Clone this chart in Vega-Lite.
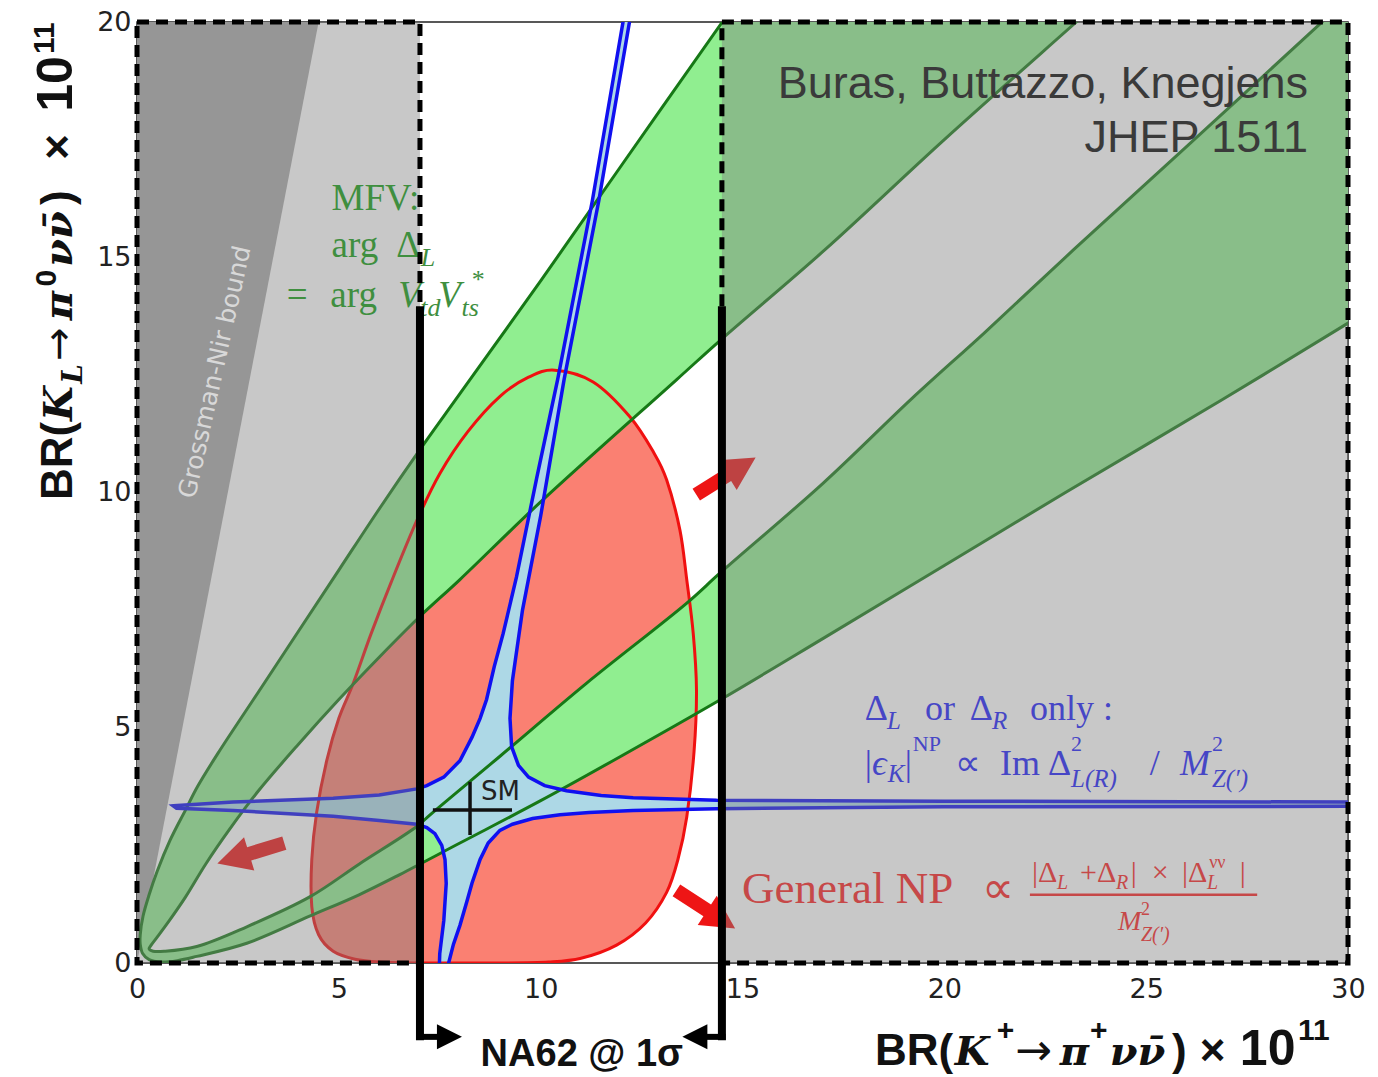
{
  "$schema": "https://vega.github.io/schema/vega-lite/v6.json",
  "width": 1211,
  "height": 941,
  "autosize": {"type": "none"},
  "padding": {"left": 137, "top": 22, "right": 30, "bottom": 114},
  "background": "white",
  "config": {"view": {"stroke": "#222222", "strokeWidth": 1.5}},
  "datasets": {
    "gn": [{"x":0,"y":0,"i":0},{"x":4.5,"y":20,"i":1},{"x":0,"y":20,"i":2}],
    "gfill": [
      {"x":14.5,"y":20,"i":0},{"x":23.27,"y":20,"i":1},{"x":20,"y":17.5,"i":2},{"x":17.03,"y":15.15,"i":3},{"x":14.47,"y":13.25,"i":4},{"x":13.37,"y":12.4,"i":5},{"x":10,"y":9.8,"i":6},{"x":8,"y":8.15,"i":7},{"x":7,"y":7.36,"i":8},{"x":6,"y":6.5,"i":9},{"x":5,"y":5.6,"i":10},{"x":4,"y":4.65,"i":11},{"x":3,"y":3.65,"i":12},{"x":2.3,"y":2.85,"i":13},{"x":1.7,"y":2.1,"i":14},{"x":1.2,"y":1.4,"i":15},{"x":0.8,"y":0.9,"i":16},{"x":0.5,"y":0.55,"i":17},{"x":0.35,"y":0.38,"i":18},{"x":0.3,"y":0.3,"i":19},{"x":0.4,"y":0.25,"i":20},{"x":0.7,"y":0.25,"i":21},{"x":1.48,"y":0.35,"i":22},{"x":2.72,"y":0.77,"i":23},{"x":4.29,"y":1.41,"i":24},{"x":5.5,"y":2.1,"i":25},{"x":6.93,"y":2.9,"i":26},{"x":7.26,"y":3.15,"i":27},{"x":9,"y":4.4,"i":28},{"x":11.14,"y":5.95,"i":29},{"x":13.62,"y":7.65,"i":30},{"x":14.46,"y":8.3,"i":31},{"x":17,"y":10.2,"i":32},{"x":19.2,"y":12.0,"i":33},{"x":21,"y":13.4,"i":34},{"x":23.19,"y":15.15,"i":35},{"x":26,"y":17.35,"i":36},{"x":29.28,"y":19.94,"i":37},{"x":29.35,"y":20,"i":38},{"x":30,"y":20,"i":39},{"x":30,"y":13.6,"i":40},{"x":26.88,"y":11.97,"i":41},{"x":23,"y":10.0,"i":42},{"x":20,"y":8.45,"i":43},{"x":17,"y":6.9,"i":44},{"x":14.46,"y":5.6,"i":45},{"x":12,"y":4.4,"i":46},{"x":10,"y":3.45,"i":47},{"x":8,"y":2.55,"i":48},{"x":6.51,"y":1.88,"i":49},{"x":5.5,"y":1.45,"i":50},{"x":4.29,"y":1.0,"i":51},{"x":2.72,"y":0.42,"i":52},{"x":1.48,"y":0.14,"i":53},{"x":1.0,"y":0.05,"i":54},{"x":0.6,"y":0.02,"i":55},{"x":0.3,"y":0.07,"i":56},{"x":0.14,"y":0.2,"i":57},{"x":0.08,"y":0.4,"i":58},{"x":0.08,"y":0.6,"i":59},{"x":0.15,"y":1.0,"i":60},{"x":0.3,"y":1.45,"i":61},{"x":0.5,"y":1.95,"i":62},{"x":0.82,"y":2.61,"i":63},{"x":1.2,"y":3.25,"i":64},{"x":1.5,"y":3.75,"i":65},{"x":2,"y":4.45,"i":66},{"x":3,"y":5.75,"i":67},{"x":4,"y":7.05,"i":68},{"x":5,"y":8.35,"i":69},{"x":6,"y":9.65,"i":70},{"x":7,"y":10.9,"i":71},{"x":8,"y":12.1,"i":72},{"x":10,"y":14.5,"i":73},{"x":12,"y":16.95,"i":74}
    ],
    "glines": [
      {"c":"A","x":15,"y":20.6,"i":0},{"c":"A","x":14.5,"y":20,"i":1},{"c":"A","x":12,"y":16.95,"i":2},{"c":"A","x":10,"y":14.5,"i":3},{"c":"A","x":8,"y":12.1,"i":4},{"c":"A","x":7,"y":10.9,"i":5},{"c":"A","x":6,"y":9.65,"i":6},{"c":"A","x":5,"y":8.35,"i":7},{"c":"A","x":4,"y":7.05,"i":8},{"c":"A","x":3,"y":5.75,"i":9},{"c":"A","x":2,"y":4.45,"i":10},{"c":"A","x":1.5,"y":3.75,"i":11},{"c":"A","x":1.2,"y":3.25,"i":12},{"c":"A","x":0.82,"y":2.61,"i":13},{"c":"A","x":0.5,"y":1.95,"i":14},{"c":"A","x":0.3,"y":1.45,"i":15},{"c":"A","x":0.15,"y":1.0,"i":16},{"c":"A","x":0.08,"y":0.6,"i":17},{"c":"A","x":0.08,"y":0.4,"i":18},{"c":"A","x":0.14,"y":0.2,"i":19},{"c":"A","x":0.3,"y":0.07,"i":20},{"c":"A","x":0.6,"y":0.02,"i":21},{"c":"A","x":1.0,"y":0.05,"i":22},{"c":"A","x":1.48,"y":0.14,"i":23},{"c":"A","x":2.72,"y":0.42,"i":24},{"c":"A","x":4.29,"y":1.0,"i":25},{"c":"A","x":5.5,"y":1.45,"i":26},{"c":"A","x":6.51,"y":1.88,"i":27},{"c":"A","x":8,"y":2.55,"i":28},{"c":"A","x":10,"y":3.45,"i":29},{"c":"A","x":12,"y":4.4,"i":30},{"c":"A","x":14.46,"y":5.6,"i":31},{"c":"A","x":17,"y":6.9,"i":32},{"c":"A","x":20,"y":8.45,"i":33},{"c":"A","x":23,"y":10.0,"i":34},{"c":"A","x":26.88,"y":11.97,"i":35},{"c":"A","x":30,"y":13.6,"i":36},{"c":"A","x":30.5,"y":13.85,"i":37},
      {"c":"B","x":24,"y":20.56,"i":0},{"c":"B","x":23.27,"y":20,"i":1},{"c":"B","x":20,"y":17.5,"i":2},{"c":"B","x":17.03,"y":15.15,"i":3},{"c":"B","x":14.47,"y":13.25,"i":4},{"c":"B","x":13.37,"y":12.4,"i":5},{"c":"B","x":10,"y":9.8,"i":6},{"c":"B","x":8,"y":8.15,"i":7},{"c":"B","x":7,"y":7.36,"i":8},{"c":"B","x":6,"y":6.5,"i":9},{"c":"B","x":5,"y":5.6,"i":10},{"c":"B","x":4,"y":4.65,"i":11},{"c":"B","x":3,"y":3.65,"i":12},{"c":"B","x":2.3,"y":2.85,"i":13},{"c":"B","x":1.7,"y":2.1,"i":14},{"c":"B","x":1.2,"y":1.4,"i":15},{"c":"B","x":0.8,"y":0.9,"i":16},{"c":"B","x":0.5,"y":0.55,"i":17},{"c":"B","x":0.35,"y":0.38,"i":18},{"c":"B","x":0.3,"y":0.3,"i":19},{"c":"B","x":0.4,"y":0.25,"i":20},{"c":"B","x":0.7,"y":0.25,"i":21},{"c":"B","x":1.48,"y":0.35,"i":22},{"c":"B","x":2.72,"y":0.77,"i":23},{"c":"B","x":4.29,"y":1.41,"i":24},{"c":"B","x":5.5,"y":2.1,"i":25},{"c":"B","x":6.93,"y":2.9,"i":26},{"c":"B","x":7.26,"y":3.15,"i":27},{"c":"B","x":9,"y":4.4,"i":28},{"c":"B","x":11.14,"y":5.95,"i":29},{"c":"B","x":13.62,"y":7.65,"i":30},{"c":"B","x":14.46,"y":8.3,"i":31},{"c":"B","x":17,"y":10.2,"i":32},{"c":"B","x":19.2,"y":12.0,"i":33},{"c":"B","x":21,"y":13.4,"i":34},{"c":"B","x":23.19,"y":15.15,"i":35},{"c":"B","x":26,"y":17.35,"i":36},{"c":"B","x":29.28,"y":19.94,"i":37},{"c":"B","x":30,"y":20.5,"i":38}
    ],
    "red": [
      {"x":10.35,"y":12.6,"i":0},{"x":11.3,"y":12.35,"i":1},{"x":12.21,"y":11.61,"i":2},{"x":12.8,"y":10.85,"i":3},{"x":13.12,"y":10.27,"i":4},{"x":13.45,"y":9.2,"i":5},{"x":13.62,"y":8.14,"i":6},{"x":13.78,"y":7.0,"i":7},{"x":13.86,"y":5.8,"i":8},{"x":13.8,"y":4.5,"i":9},{"x":13.62,"y":3.11,"i":10},{"x":13.4,"y":2.2,"i":11},{"x":13.12,"y":1.5,"i":12},{"x":12.6,"y":0.85,"i":13},{"x":11.88,"y":0.38,"i":14},{"x":11.0,"y":0.1,"i":15},{"x":10.2,"y":0.02,"i":16},{"x":9,"y":0,"i":17},{"x":7,"y":0,"i":18},{"x":6.0,"y":0.02,"i":19},{"x":5.4,"y":0.08,"i":20},{"x":4.86,"y":0.25,"i":21},{"x":4.5,"y":0.6,"i":22},{"x":4.33,"y":1.2,"i":23},{"x":4.33,"y":2.2,"i":24},{"x":4.45,"y":3.2,"i":25},{"x":4.7,"y":4.3,"i":26},{"x":5.0,"y":5.2,"i":27},{"x":5.36,"y":5.95,"i":28},{"x":5.8,"y":7.0,"i":29},{"x":6.3,"y":8.1,"i":30},{"x":6.93,"y":9.4,"i":31},{"x":7.5,"y":10.4,"i":32},{"x":8.2,"y":11.3,"i":33},{"x":9.0,"y":12.05,"i":34},{"x":9.7,"y":12.45,"i":35}
    ],
    "blue": [
      {"x":0.9,"y":3.34,"i":0},{"x":2.38,"y":3.42,"i":1},{"x":4.86,"y":3.5,"i":2},{"x":6.0,"y":3.57,"i":3},{"x":6.93,"y":3.7,"i":4},{"x":7.18,"y":3.77,"i":5},{"x":7.6,"y":3.95,"i":6},{"x":8.0,"y":4.3,"i":7},{"x":8.3,"y":4.8,"i":8},{"x":8.5,"y":5.2,"i":9},{"x":8.66,"y":5.6,"i":10},{"x":8.85,"y":6.3,"i":11},{"x":9.07,"y":7.0,"i":12},{"x":9.4,"y":8.2,"i":13},{"x":9.9,"y":10.3,"i":14},{"x":10.42,"y":12.4,"i":15},{"x":11.28,"y":16.2,"i":16},{"x":12.12,"y":20.4,"i":17},{"x":12.28,"y":20.4,"i":18},{"x":11.44,"y":16.2,"i":19},{"x":10.58,"y":12.4,"i":20},{"x":10.0,"y":9.5,"i":21},{"x":9.55,"y":7.5,"i":22},{"x":9.3,"y":6.0,"i":23},{"x":9.24,"y":5.2,"i":24},{"x":9.28,"y":4.6,"i":25},{"x":9.45,"y":4.2,"i":26},{"x":9.7,"y":3.95,"i":27},{"x":10.1,"y":3.77,"i":28},{"x":10.64,"y":3.66,"i":29},{"x":11.5,"y":3.56,"i":30},{"x":12.29,"y":3.51,"i":31},{"x":14.36,"y":3.46,"i":32},{"x":20,"y":3.44,"i":33},{"x":30.5,"y":3.42,"i":34},{"x":30.5,"y":3.33,"i":35},{"x":20,"y":3.32,"i":36},{"x":14.36,"y":3.28,"i":37},{"x":12.29,"y":3.24,"i":38},{"x":11.2,"y":3.2,"i":39},{"x":10.48,"y":3.15,"i":40},{"x":9.8,"y":3.07,"i":41},{"x":9.3,"y":2.95,"i":42},{"x":8.99,"y":2.82,"i":43},{"x":8.7,"y":2.55,"i":44},{"x":8.5,"y":2.2,"i":45},{"x":8.3,"y":1.7,"i":46},{"x":8.17,"y":1.3,"i":47},{"x":8.0,"y":0.8,"i":48},{"x":7.84,"y":0.4,"i":49},{"x":7.72,"y":0,"i":50},{"x":7.68,"y":-0.3,"i":51},{"x":7.48,"y":-0.3,"i":52},{"x":7.5,"y":0.2,"i":53},{"x":7.6,"y":0.9,"i":54},{"x":7.66,"y":1.69,"i":55},{"x":7.63,"y":2.2,"i":56},{"x":7.55,"y":2.5,"i":57},{"x":7.38,"y":2.75,"i":58},{"x":7.18,"y":2.88,"i":59},{"x":6.93,"y":2.95,"i":60},{"x":6.0,"y":3.03,"i":61},{"x":4.86,"y":3.12,"i":62},{"x":2.38,"y":3.24,"i":63},{"x":0.98,"y":3.29,"i":64}
    ],
    "regions": [{"x":0,"x2":7.01,"y":0,"y2":20},{"x":14.49,"x2":30,"y":0,"y2":20}],
    "arrow1": [{"x":14.59,"y":10.35}],
    "arrow2": [{"x":2.82,"y":2.33}],
    "arrow3": [{"x":14.09,"y":1.14}],
    "smcross": [{"x":7.33,"x2":9.29,"y":3.25,"y2":3.25},{"x":8.25,"x2":8.25,"y":2.72,"y2":3.85}],
    "na62v": [{"x":7.01,"y":13.96,"y2":-1.64},{"x":14.49,"y":13.96,"y2":-1.64}],
    "na62h": [{"x":6.92,"x2":7.7,"y":-1.57},{"x":13.85,"x2":14.58,"y":-1.57}],
    "triR": [{"x":7.74,"y":-1.57}],
    "triL": [{"x":13.82,"y":-1.57}],
    "fracbar": [{"x":22.12,"x2":27.75,"y":1.45,"y2":1.45}],
    "tGreen": [{"x":4.82,"y":16.0,"t":"MFV:"},{"x":4.82,"y":15.01,"t":"arg"},{"x":6.42,"y":15.01,"t":"Δ"},{"x":3.71,"y":13.95,"t":"="},{"x":4.79,"y":13.95,"t":"arg"}],
    "tGreenIt": [{"x":6.47,"y":13.95,"t":"V"},{"x":7.46,"y":13.95,"t":"V"}],
    "tGreenSub": [{"x":7.03,"y":14.81,"t":"L"},{"x":7.02,"y":13.75,"t":"td"},{"x":8.04,"y":13.75,"t":"ts"},{"x":8.26,"y":14.35,"t":"*"}],
    "tBlue": [{"x":18.03,"y":5.165,"t":"Δ"},{"x":19.52,"y":5.165,"t":"or"},{"x":20.63,"y":5.165,"t":"Δ"},{"x":22.12,"y":5.165,"t":"only :"},{"x":18.03,"y":4.0,"t":"|"},{"x":19.02,"y":4.0,"t":"|"},{"x":20.26,"y":4.0,"t":"∝"},{"x":21.38,"y":4.0,"t":"Im"},{"x":22.57,"y":4.0,"t":"Δ"},{"x":25.09,"y":4.0,"t":"/"}],
    "tBlueIt": [{"x":18.21,"y":4.0,"t":"ϵ"},{"x":25.84,"y":4.0,"t":"M"}],
    "tBlueSub": [{"x":18.58,"y":4.97,"t":"L"},{"x":21.18,"y":4.97,"t":"R"},{"x":18.6,"y":3.85,"t":"K"},{"x":23.14,"y":3.74,"t":"L(R)"},{"x":26.63,"y":3.74,"t":"Z(′)"}],
    "tBlueSup": [{"x":19.22,"y":4.51,"t":"NP"},{"x":23.14,"y":4.51,"t":"2"},{"x":26.63,"y":4.51,"t":"2"}],
    "tRed": [{"x":14.99,"y":1.28,"t":"General NP"},{"x":20.93,"y":1.28,"t":"∝"}],
    "tRedNum": [{"x":22.17,"y":1.72,"t":"|Δ"},{"x":23.36,"y":1.72,"t":"+Δ"},{"x":24.62,"y":1.72,"t":"|"},{"x":25.14,"y":1.72,"t":"×"},{"x":25.89,"y":1.72,"t":"|Δ"},{"x":27.32,"y":1.72,"t":"|"}],
    "tRedNumIt": [{"x":24.3,"y":0.7,"t":"M"}],
    "tRedSub": [{"x":22.79,"y":1.57,"t":"L"},{"x":24.25,"y":1.57,"t":"R"},{"x":26.51,"y":1.57,"t":"L"},{"x":24.87,"y":0.47,"t":"Z(′)"}],
    "tRedSup": [{"x":26.56,"y":2.02,"t":"νν"},{"x":24.87,"y":1.02,"t":"2"}],
    "tBuras": [{"x":29.01,"y":18.38,"t":"Buras, Buttazzo, Knegjens"},{"x":29.01,"y":17.24,"t":"JHEP 1511"}],
    "tGN": [{"x":1.93,"y":12.56,"t":"Grossman-Nir bound"}],
    "tSM": [{"x":8.52,"y":3.46,"t":"SM"}],
    "tNA62": [{"x":11.02,"y":-2.19,"t":"NA62 @ 1σ"}],
    "tXSans": [{"x":18.28,"y":-2.17,"t":"BR("},{"x":25.64,"y":-2.17,"t":")"},{"x":26.33,"y":-2.17,"t":"×"}],
    "tXBig": [{"x":27.32,"y":-2.17,"t":"10"}],
    "tXArrow": [{"x":21.75,"y":-2.17,"t":"→"}],
    "tXSerif": [{"x":20.26,"y":-2.17,"t":"K"},{"x":22.86,"y":-2.17,"t":"π"},{"x":24.1,"y":-2.17,"t":"νν̄"}],
    "tXSup": [{"x":21.3,"y":-1.64,"t":"+"},{"x":23.61,"y":-1.64,"t":"+"},{"x":28.76,"y":-1.64,"t":"11"}],
    "tYSans": [{"x":-1.61,"y":9.84,"t":"BR("},{"x":-1.61,"y":16.11,"t":")"},{"x":-1.61,"y":17.07,"t":"×"}],
    "tYBig": [{"x":-1.61,"y":18.09,"t":"10"}],
    "tYArrow": [{"x":-1.61,"y":12.8,"t":"→"}],
    "tYSerif": [{"x":-1.61,"y":11.52,"t":"K"},{"x":-1.61,"y":13.66,"t":"π"},{"x":-1.61,"y":14.8,"t":"νν̄"}],
    "tYSub": [{"x":-1.36,"y":12.31,"t":"L"}],
    "tYSup": [{"x":-2.0,"y":14.38,"t":"0"},{"x":-2.05,"y":19.32,"t":"11"}]
  },
  "encoding": {
    "x": {"field": "x", "type": "quantitative", "scale": {"domain": [0, 30], "nice": false},
      "axis": {"values": [0,5,10,15,20,25,30], "title": null, "grid": false, "domain": false, "ticks": false, "tickSize": 0, "labelFontSize": 27, "labelFont": "DejaVu Sans", "labelColor": "#222222", "labelPadding": 13, "labelFlush": false, "labelOverlap": false, "labelBound": false}},
    "y": {"field": "y", "type": "quantitative", "scale": {"domain": [0, 20], "nice": false},
      "axis": {"values": [0,5,10,15,20], "title": null, "grid": false, "domain": false, "ticks": false, "tickSize": 0, "labelFontSize": 27, "labelFont": "DejaVu Sans", "labelColor": "#222222", "labelPadding": 6, "labelFlush": false, "labelOverlap": false, "labelBound": false}}
  },
  "layer": [
    {"data": {"name": "gn"}, "mark": {"type": "line", "fill": "#a8a8a8", "strokeWidth": 0, "clip": true}, "encoding": {"order": {"field": "i", "type": "quantitative"}}},
    {"data": {"name": "red"}, "mark": {"type": "line", "fill": "#FA8072", "strokeWidth": 0, "interpolate": "cardinal-closed", "clip": true}, "encoding": {"order": {"field": "i", "type": "quantitative"}}},
    {"data": {"name": "gfill"}, "mark": {"type": "line", "fill": "#90EE90", "strokeWidth": 0, "clip": true}, "encoding": {"order": {"field": "i", "type": "quantitative"}}},
    {"data": {"name": "arrow1"}, "mark": {"type": "point", "shape": "M-1,-0.2L0.05,-0.2L0.05,-0.5L1,0L0.05,0.5L0.05,0.2L-1,0.2Z", "size": 4900, "angle": -32, "filled": true, "color": "#ee1515", "opacity": 1, "strokeWidth": 0}},
    {"data": {"name": "arrow2"}, "mark": {"type": "point", "shape": "M-1,-0.2L0.05,-0.2L0.05,-0.5L1,0L0.05,0.5L0.05,0.2L-1,0.2Z", "size": 4900, "angle": 163, "filled": true, "color": "#ee1515", "opacity": 1, "strokeWidth": 0}},
    {"data": {"name": "arrow3"}, "mark": {"type": "point", "shape": "M-1,-0.2L0.05,-0.2L0.05,-0.5L1,0L0.05,0.5L0.05,0.2L-1,0.2Z", "size": 4900, "angle": 33, "filled": true, "color": "#ee1515", "opacity": 1, "strokeWidth": 0}},
    {"data": {"name": "blue"}, "mark": {"type": "line", "fill": "#ADD8E6", "strokeWidth": 0, "interpolate": "linear-closed", "clip": true}, "encoding": {"order": {"field": "i", "type": "quantitative"}}},
    {"data": {"name": "red"}, "mark": {"type": "line", "color": "#f01010", "strokeWidth": 3, "interpolate": "cardinal-closed", "clip": true}, "encoding": {"order": {"field": "i", "type": "quantitative"}}},
    {"data": {"name": "glines"}, "mark": {"type": "line", "color": "#167816", "strokeWidth": 3, "interpolate": "catmull-rom", "clip": true}, "encoding": {"order": {"field": "i", "type": "quantitative"}, "detail": {"field": "c", "type": "nominal"}}},
    {"data": {"name": "blue"}, "mark": {"type": "line", "color": "#1010f0", "strokeWidth": 3.5, "interpolate": "linear-closed", "clip": true}, "encoding": {"order": {"field": "i", "type": "quantitative"}}},
    {"data": {"name": "smcross"}, "mark": {"type": "rule", "color": "#111111", "strokeWidth": 3.5}, "encoding": {"x2": {"field": "x2"}, "y2": {"field": "y2"}}},
    {"data": {"name": "regions"}, "mark": {"type": "rect", "color": "#808080", "opacity": 0.43}, "encoding": {"x2": {"field": "x2"}, "y2": {"field": "y2"}}},
    {"data": {"name": "tGN"}, "mark": {"type": "text", "font": "DejaVu Sans", "fontSize": 25, "color": "#d8d8d8", "angle": -77.5, "align": "center", "baseline": "middle"}, "encoding": {"text": {"field": "t", "type": "nominal"}}},
    {"data": {"name": "tSM"}, "mark": {"type": "text", "font": "DejaVu Sans", "fontSize": 26, "color": "#222222", "align": "left", "baseline": "alphabetic"}, "encoding": {"text": {"field": "t", "type": "nominal"}}},
    {"data": {"name": "tBuras"}, "mark": {"type": "text", "font": "Liberation Sans", "fontSize": 45, "color": "#3a3a3a", "align": "right", "baseline": "alphabetic"}, "encoding": {"text": {"field": "t", "type": "nominal"}}},
    {"data": {"name": "tGreen"}, "mark": {"type": "text", "font": "Liberation Serif", "fontSize": 37, "color": "#3f8f3f", "align": "left", "baseline": "alphabetic"}, "encoding": {"text": {"field": "t", "type": "nominal"}}},
    {"data": {"name": "tGreenIt"}, "mark": {"type": "text", "font": "Liberation Serif", "fontSize": 37, "fontStyle": "italic", "color": "#3f8f3f", "align": "left", "baseline": "alphabetic"}, "encoding": {"text": {"field": "t", "type": "nominal"}}},
    {"data": {"name": "tGreenSub"}, "mark": {"type": "text", "font": "Liberation Serif", "fontSize": 26, "fontStyle": "italic", "color": "#3f8f3f", "align": "left", "baseline": "alphabetic"}, "encoding": {"text": {"field": "t", "type": "nominal"}}},
    {"data": {"name": "tBlue"}, "mark": {"type": "text", "font": "Liberation Serif", "fontSize": 36, "color": "#4646c6", "align": "left", "baseline": "alphabetic"}, "encoding": {"text": {"field": "t", "type": "nominal"}}},
    {"data": {"name": "tBlueIt"}, "mark": {"type": "text", "font": "Liberation Serif", "fontSize": 36, "fontStyle": "italic", "color": "#4646c6", "align": "left", "baseline": "alphabetic"}, "encoding": {"text": {"field": "t", "type": "nominal"}}},
    {"data": {"name": "tBlueSub"}, "mark": {"type": "text", "font": "Liberation Serif", "fontSize": 25, "fontStyle": "italic", "color": "#4646c6", "align": "left", "baseline": "alphabetic"}, "encoding": {"text": {"field": "t", "type": "nominal"}}},
    {"data": {"name": "tBlueSup"}, "mark": {"type": "text", "font": "Liberation Serif", "fontSize": 22, "color": "#4646c6", "align": "left", "baseline": "alphabetic"}, "encoding": {"text": {"field": "t", "type": "nominal"}}},
    {"data": {"name": "tRed"}, "mark": {"type": "text", "font": "Liberation Serif", "fontSize": 45, "color": "#c64848", "align": "left", "baseline": "alphabetic"}, "encoding": {"text": {"field": "t", "type": "nominal"}}},
    {"data": {"name": "tRedNum"}, "mark": {"type": "text", "font": "Liberation Serif", "fontSize": 30, "color": "#c64848", "align": "left", "baseline": "alphabetic"}, "encoding": {"text": {"field": "t", "type": "nominal"}}},
    {"data": {"name": "tRedNumIt"}, "mark": {"type": "text", "font": "Liberation Serif", "fontSize": 28, "fontStyle": "italic", "color": "#c64848", "align": "left", "baseline": "alphabetic"}, "encoding": {"text": {"field": "t", "type": "nominal"}}},
    {"data": {"name": "tRedSub"}, "mark": {"type": "text", "font": "Liberation Serif", "fontSize": 20, "fontStyle": "italic", "color": "#c64848", "align": "left", "baseline": "alphabetic"}, "encoding": {"text": {"field": "t", "type": "nominal"}}},
    {"data": {"name": "tRedSup"}, "mark": {"type": "text", "font": "Liberation Serif", "fontSize": 18, "color": "#c64848", "align": "left", "baseline": "alphabetic"}, "encoding": {"text": {"field": "t", "type": "nominal"}}},
    {"data": {"name": "fracbar"}, "mark": {"type": "rule", "color": "#c64848", "strokeWidth": 2.5}, "encoding": {"x2": {"field": "x2"}, "y2": {"field": "y2"}}},
    {"data": {"name": "regions"}, "mark": {"type": "rect", "fill": "transparent", "stroke": "#000000", "strokeWidth": 5, "strokeDash": [12, 7]}, "encoding": {"x2": {"field": "x2"}, "y2": {"field": "y2"}}},
    {"data": {"name": "na62v"}, "mark": {"type": "rule", "color": "#000000", "strokeWidth": 8, "strokeCap": "butt"}, "encoding": {"y2": {"field": "y2"}}},
    {"data": {"name": "na62h"}, "mark": {"type": "rule", "color": "#000000", "strokeWidth": 6, "strokeCap": "butt"}, "encoding": {"x2": {"field": "x2"}}},
    {"data": {"name": "triR"}, "mark": {"type": "point", "shape": "M-1,-1L1,0L-1,1Z", "size": 625, "filled": true, "color": "#000000", "opacity": 1}},
    {"data": {"name": "triL"}, "mark": {"type": "point", "shape": "M1,-1L-1,0L1,1Z", "size": 625, "filled": true, "color": "#000000", "opacity": 1}},
    {"data": {"name": "tNA62"}, "mark": {"type": "text", "font": "Liberation Sans", "fontWeight": "bold", "fontSize": 38, "color": "#111111", "align": "center", "baseline": "alphabetic"}, "encoding": {"text": {"field": "t", "type": "nominal"}}},
    {"data": {"name": "tXSans"}, "mark": {"type": "text", "font": "Liberation Sans", "fontWeight": "bold", "fontSize": 44, "color": "#111111", "align": "left", "baseline": "alphabetic"}, "encoding": {"text": {"field": "t", "type": "nominal"}}},
    {"data": {"name": "tXBig"}, "mark": {"type": "text", "font": "Liberation Sans", "fontWeight": "bold", "fontSize": 50, "color": "#111111", "align": "left", "baseline": "alphabetic"}, "encoding": {"text": {"field": "t", "type": "nominal"}}},
    {"data": {"name": "tXArrow"}, "mark": {"type": "text", "font": "DejaVu Sans", "fontSize": 44, "color": "#111111", "align": "left", "baseline": "alphabetic"}, "encoding": {"text": {"field": "t", "type": "nominal"}}},
    {"data": {"name": "tXSerif"}, "mark": {"type": "text", "font": "DejaVu Serif", "fontWeight": "bold", "fontStyle": "italic", "fontSize": 40, "color": "#111111", "align": "left", "baseline": "alphabetic"}, "encoding": {"text": {"field": "t", "type": "nominal"}}},
    {"data": {"name": "tXSup"}, "mark": {"type": "text", "font": "Liberation Sans", "fontWeight": "bold", "fontSize": 30, "color": "#111111", "align": "left", "baseline": "alphabetic"}, "encoding": {"text": {"field": "t", "type": "nominal"}}},
    {"data": {"name": "tYSans"}, "mark": {"type": "text", "font": "Liberation Sans", "fontWeight": "bold", "fontSize": 44, "color": "#111111", "align": "left", "baseline": "alphabetic", "angle": -90}, "encoding": {"text": {"field": "t", "type": "nominal"}}},
    {"data": {"name": "tYBig"}, "mark": {"type": "text", "font": "Liberation Sans", "fontWeight": "bold", "fontSize": 50, "color": "#111111", "align": "left", "baseline": "alphabetic", "angle": -90}, "encoding": {"text": {"field": "t", "type": "nominal"}}},
    {"data": {"name": "tYArrow"}, "mark": {"type": "text", "font": "DejaVu Sans", "fontSize": 40, "color": "#111111", "align": "left", "baseline": "alphabetic", "angle": -90}, "encoding": {"text": {"field": "t", "type": "nominal"}}},
    {"data": {"name": "tYSerif"}, "mark": {"type": "text", "font": "DejaVu Serif", "fontWeight": "bold", "fontStyle": "italic", "fontSize": 40, "color": "#111111", "align": "left", "baseline": "alphabetic", "angle": -90}, "encoding": {"text": {"field": "t", "type": "nominal"}}},
    {"data": {"name": "tYSub"}, "mark": {"type": "text", "font": "DejaVu Serif", "fontWeight": "bold", "fontStyle": "italic", "fontSize": 28, "color": "#111111", "align": "left", "baseline": "alphabetic", "angle": -90}, "encoding": {"text": {"field": "t", "type": "nominal"}}},
    {"data": {"name": "tYSup"}, "mark": {"type": "text", "font": "Liberation Sans", "fontWeight": "bold", "fontSize": 30, "color": "#111111", "align": "left", "baseline": "alphabetic", "angle": -90}, "encoding": {"text": {"field": "t", "type": "nominal"}}}
  ]
}
